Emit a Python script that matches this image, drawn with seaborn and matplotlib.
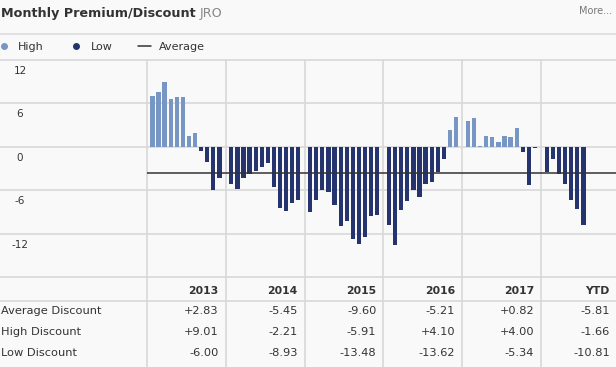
import numpy as np
import pandas as pd
import matplotlib
matplotlib.use("Agg")
import matplotlib.pyplot as plt
import seaborn as sns
from matplotlib import transforms
from matplotlib.lines import Line2D

# ---------------- data ----------------
years = ["2013", "2014", "2015", "2016", "2017", "YTD"]
v2013 = [7.01, 7.52, 9.01, 6.60, 6.92, 6.92, 1.43, 1.85, -0.55, -2.17, -6.00, -4.25]
v2014 = [-5.17, -5.77, -4.38, -3.78, -3.37, -2.77, -2.21, -5.54, -8.45, -8.93, -7.75, -7.29]
v2015 = [-9.00, -7.29, -5.91, -6.28, -8.03, -10.98, -10.24, -12.74, -13.48, -12.46, -9.55, -9.37]
v2016 = [-10.84, -13.62, -8.77, -7.52, -6.00, -6.92, -5.21, -4.90, -3.46, -1.63, 2.31, 4.10]
v2017 = [3.60, 4.00, 0.05, 1.48, 1.29, 0.65, 1.48, 1.29, 2.63, -0.78, -5.34, -0.10]
vytd = [-3.46, -1.66, -3.78, -5.08, -7.29, -8.63, -10.81]
average_value = -3.58

yticks = [12, 6, 0, -6, -12]
row_labels = ["Average Discount", "High Discount", "Low Discount"]
avg_disc = ["+2.83", "-5.45", "-9.60", "-5.21", "+0.82", "-5.81"]
high_disc = ["+9.01", "-2.21", "-5.91", "+4.10", "+4.00", "-1.66"]
low_disc = ["-6.00", "-8.93", "-13.48", "-13.62", "-5.34", "-10.81"]

# ---------------- styling ----------------
BG = "#f9f9f9"
GRID = "#d8d8d8"
LIGHT = "#7896c3"
DARK = "#25336f"
TXT = "#333333"

sns.set_style("white")
plt.rcParams["font.family"] = ["DejaVu Sans"]

FW, FH = 616, 367
fig = plt.figure(figsize=(FW / 100, FH / 100), dpi=100, facecolor=BG)
PLOT_TOP, PLOT_BOT = 60, 277
ax = fig.add_axes([0, (FH - PLOT_BOT) / FH, 1, (PLOT_BOT - PLOT_TOP) / FH])
ax.set_facecolor(BG)

COLW = 78.9          # pixel width of one year column
LEFTCOL = 146.7      # pixel width of label column

# build long table
series = [v2013, v2014, v2015, v2016, v2017, vytd]
rows = []
for yi, (yr, vals) in enumerate(zip(years, series)):
    for m, v in enumerate(vals):
        rows.append({"pos": yi + 0.072 + m * 0.0772, "value": v,
                     "series": "High" if v >= 0 else "Low", "year": yr})
df = pd.DataFrame(rows)

sns.barplot(data=df, x="pos", y="value", hue="series", hue_order=["High", "Low"],
            palette=[LIGHT, DARK], native_scale=True, dodge=False, width=0.7,
            errorbar=None, saturation=1, legend=False, ax=ax, zorder=3,
            linewidth=0)

xmin = -LEFTCOL / COLW
xmax = (FW - LEFTCOL) / COLW
ax.set_xlim(xmin, xmax)
ax.set_ylim(-18, 12)
ax.set_xlabel("")
ax.set_ylabel("")
ax.set_xticks([])
ax.set_yticks([])
for s in ax.spines.values():
    s.set_visible(False)

# horizontal gridlines
for yv in [12, 6, 0, -6, -12, -18]:
    ax.axhline(yv, color=GRID, lw=1.2, zorder=1, clip_on=False)
# vertical gridlines (extend through the table)
below = (PLOT_BOT - FH) / (PLOT_BOT - PLOT_TOP)
for k in range(6):
    ax.axvline(k, ymin=below, ymax=1, color=GRID, lw=1.2, zorder=1, clip_on=False)

# average line
ax.hlines(average_value, 0, xmax, color=TXT, lw=1.1, zorder=4)

# y tick labels inside the left column, below gridline
bt = transforms.blended_transform_factory(ax.transAxes, ax.transData)
bt_off = transforms.offset_copy(bt, fig=fig, x=0, y=-11, units="dots")
for yv in yticks:
    ax.text(20 / FW, yv, f"{yv}", transform=bt_off, ha="center", va="center",
            fontsize=7.5, color=TXT)

# title
t1 = fig.text(1 / FW, 1 - 13 / FH, "Monthly Premium/Discount", fontsize=9.2,
              fontweight="bold", color=TXT, ha="left", va="center")
fig.canvas.draw()
bb = t1.get_window_extent(renderer=fig.canvas.get_renderer())
fig.text((bb.x1 + 4) / FW, 1 - 13 / FH, "JRO", fontsize=9.2, color="#888888",
         ha="left", va="center")
fig.text(612 / FW, 1 - 11 / FH, "More...", fontsize=7, color="#777777",
         ha="right", va="center")
fig.add_artist(Line2D([0, 1], [1 - 34 / FH, 1 - 34 / FH], color="#dddddd",
                      lw=1.2, transform=fig.transFigure))

# legend
handles = [Line2D([], [], marker="o", ls="", color=LIGHT, markersize=4),
           Line2D([], [], marker="o", ls="", color=DARK, markersize=4),
           Line2D([], [], color=TXT, lw=1.1)]
fig.legend(handles, ["High", "Low", "Average"], loc="center left",
           bbox_to_anchor=(-0.021, 1 - 47 / FH), ncol=3, frameon=False,
           fontsize=8, handlelength=1.2, handletextpad=0.7, columnspacing=2.3,
           labelcolor=TXT)

# table
tt = transforms.blended_transform_factory(ax.transData, fig.transFigure)
header_y = 291
fig.add_artist(Line2D([0, 1], [1 - 301 / FH, 1 - 301 / FH], color=GRID,
                      lw=1.2, transform=fig.transFigure))
for k, yr in enumerate(years):
    xr = min(k + 1 - 7 / COLW, xmax - 6 / COLW)
    ax.text(xr, 1 - header_y / FH, yr, transform=tt, ha="right", va="center",
            fontsize=7.8, fontweight="bold", color=TXT, clip_on=False)
table_rows = [avg_disc, high_disc, low_disc]
row_y = [311, 332, 353]
for lbl, vals, ry in zip(row_labels, table_rows, row_y):
    fig.text(1 / FW, 1 - ry / FH, lbl, ha="left", va="center", fontsize=8.2,
             color=TXT)
    for k, v in enumerate(vals):
        xr = min(k + 1 - 7 / COLW, xmax - 6 / COLW)
        ax.text(xr, 1 - ry / FH, v, transform=tt, ha="right", va="center",
                fontsize=8.2, color=TXT, clip_on=False)

fig.savefig("out.png", dpi=100, facecolor=BG)
